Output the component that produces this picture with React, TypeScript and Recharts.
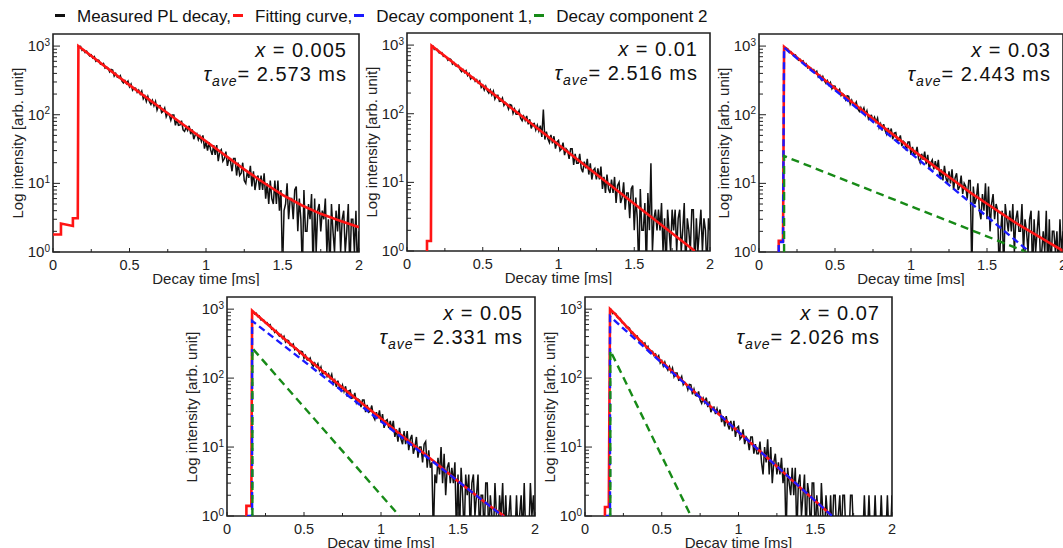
import React from "react";
import { LineChart, Line, XAxis, YAxis, ReferenceArea } from "recharts";

const FONT = '"Liberation Sans", Arial, sans-serif';
const INK = "#222";
const TEXT = "#111";

const seriesNames = ["Measured PL decay,", "Fitting curve,", "Decay component 1,", "Decay component 2"];
const seriesColors = ["#111111", "#ff1414", "#1a1aff", "#178a17"];

const panelXValues = ["0.005", "0.01", "0.03", "0.05", "0.07"];
const panelTauValues = ["2.573", "2.516", "2.443", "2.331", "2.026"];

// sample grid of the measured decays: 0.16 ms .. 2.00 ms, one bin every 0.01 ms
const sampleTimes = Array.from({ length: 185 }, (_, i) => Math.round((0.16 + i * 0.01) * 100) / 100);

const timeTicks = [0, 0.25, 0.5, 0.75, 1, 1.25, 1.5, 1.75, 2];
const intensityTicks = [
  1, 2, 3, 4, 5, 6, 7, 8, 9,
  10, 20, 30, 40, 50, 60, 70, 80, 90,
  100, 200, 300, 400, 500, 600, 700, 800, 900,
  1000,
];

// measured PL decay, one row = 0.1 ms. 0.5 = empty bin (drops below the axis)
const measuredX0005 = [
  1000, 976, 991, 866, 887, 804, 840, 765, 718, 744,
  672, 702, 604, 630, 620, 547, 541, 558, 478, 495,
  476, 421, 458, 448, 367, 400, 352, 347, 371, 311,
  290, 315, 284, 308, 255, 280, 228, 245, 244, 212,
  229, 200, 221, 171, 188, 156, 185, 155, 141, 162,
  135, 156, 117, 135, 136, 107, 112, 125, 93, 105,
  99, 83, 99, 99, 70, 86, 70, 71, 82, 60,
  57, 66, 59, 69, 52, 61, 44, 51, 53, 43,
  49, 41, 50, 32, 40, 30, 40, 31, 26, 36,
  26, 36, 21, 29, 31, 21, 23, 29, 18, 23,
  21, 15, 23, 23, 13, 20, 13, 14, 20, 11,
  10, 15, 12, 18, 9, 15, 8, 11, 13, 8,
  13, 8, 14, 6, 10, 5, 11, 6, 5, 11,
  5, 11, 4, 8, 0.5, 4, 5, 10, 3, 6,
  6, 3, 8, 9, 2, 6, 3, 0.5, 8, 2,
  2, 5, 3, 7, 0.5, 6, 1, 4, 5, 2,
  4, 3, 6, 1, 3, 0.5, 5, 2, 1, 4,
  2, 5, 1, 3, 4, 1, 2, 5, 0.5, 3,
  3, 1, 4, 0.5, 2,
];

const measuredX001 = [
  977, 979, 861, 883, 865, 775, 763, 775, 685, 693,
  665, 603, 632, 614, 529, 554, 500, 489, 506, 441,
  410, 438, 398, 425, 359, 386, 321, 339, 337, 297,
  314, 280, 300, 242, 260, 222, 252, 217, 199, 222,
  188, 213, 164, 185, 186, 151, 153, 169, 132, 145,
  137, 117, 136, 133, 101, 117, 98, 98, 111, 86,
  79, 92, 80, 93, 70, 83, 61, 71, 72, 58,
  68, 56, 67, 46, 115, 42, 55, 43, 38, 49,
  37, 47, 31, 39, 41, 29, 31, 38, 25, 31,
  29, 22, 31, 31, 18, 26, 19, 19, 26, 16,
  14, 20, 16, 22, 13, 19, 11, 15, 16, 11,
  16, 11, 17, 8, 12, 7, 13, 8, 7, 11,
  7, 12, 5, 9, 10, 5, 6, 10, 4, 7,
  7, 3, 8, 9, 2, 6, 3, 0.5, 8, 2,
  2, 5, 0.5, 7, 2, 19, 1, 3, 4, 2,
  4, 2, 5, 1, 3, 0.5, 4, 2, 1, 4,
  2, 4, 1, 3, 4, 1, 2, 5, 0.5, 3,
  2, 1, 4, 4, 0.5, 3, 1, 2, 4, 1,
  3, 2, 0.5, 3, 2,
];

const measuredX003 = [
  990, 916, 935, 906, 803, 827, 754, 732, 745, 661,
  622, 642, 592, 611, 534, 555, 480, 494, 484, 437,
  454, 408, 430, 354, 375, 324, 360, 313, 288, 314,
  272, 296, 239, 262, 260, 218, 219, 235, 190, 203,
  193, 165, 189, 185, 143, 163, 138, 137, 153, 121,
  112, 127, 112, 126, 99, 114, 87, 97, 98, 82,
  92, 78, 89, 65, 74, 59, 73, 59, 52, 64,
  51, 63, 44, 54, 55, 41, 43, 50, 35, 41,
  39, 30, 40, 40, 26, 34, 26, 27, 34, 23,
  20, 27, 22, 29, 19, 26, 16, 20, 22, 16,
  21, 16, 22, 12, 16, 11, 18, 12, 10, 15,
  10, 16, 8, 12, 14, 8, 9, 13, 7, 10,
  9, 6, 11, 11, 0.5, 9, 5, 6, 10, 4,
  3, 7, 4, 10, 3, 9, 2, 5, 7, 3,
  5, 4, 0.5, 2, 4, 0.5, 5, 3, 2, 4,
  2, 5, 1, 3, 4, 2, 2, 5, 1, 3,
  2, 1, 3, 4, 0.5, 3, 1, 2, 4, 1,
  1, 2, 1, 4, 0.5, 3, 0.5, 2, 2, 1,
  2, 0.5, 3, 1, 2,
];

const measuredX005 = [
  950, 917, 848, 869, 778, 794, 697, 706, 689, 625,
  637, 584, 598, 511, 520, 461, 488, 436, 406, 427,
  377, 405, 333, 356, 351, 298, 296, 312, 259, 270,
  258, 225, 246, 240, 193, 213, 184, 182, 196, 161,
  149, 165, 146, 162, 129, 145, 112, 124, 124, 105,
  115, 99, 113, 83, 94, 75, 92, 74, 66, 79,
  64, 76, 54, 65, 67, 51, 52, 61, 44, 50,
  48, 38, 48, 48, 32, 41, 32, 33, 40, 28,
  25, 32, 26, 34, 23, 30, 19, 24, 25, 19,
  24, 18, 24, 14, 18, 12, 19, 13, 11, 17,
  11, 17, 9, 13, 15, 8, 10, 14, 7, 10,
  10, 6, 11, 12, 5, 9, 5, 6, 0.5, 4,
  3, 7, 4, 10, 3, 8, 2, 5, 6, 3,
  5, 3, 6, 0.5, 4, 0.5, 5, 2, 0.5, 4,
  2, 4, 0.5, 3, 4, 1, 2, 4, 0.5, 2,
  2, 0.5, 3, 3, 0.5, 2, 1, 0.5, 3, 1,
  0.5, 2, 1, 3, 0.5, 2, 0.5, 1, 2, 0.5,
  1, 0.5, 2, 0.5, 1, 2, 0.5, 3, 0.5, 1,
  0.5, 3, 1, 2, 0.5,
];

const measuredX007 = [
  1000, 991, 864, 881, 863, 760, 733, 733, 638, 635,
  602, 540, 550, 529, 450, 465, 413, 399, 408, 351,
  324, 341, 306, 323, 271, 288, 237, 248, 244, 212,
  223, 196, 211, 165, 179, 149, 171, 144, 130, 147,
  123, 140, 105, 119, 119, 93, 95, 106, 80, 87,
  82, 68, 81, 80, 58, 69, 56, 55, 64, 48,
  43, 51, 44, 52, 38, 46, 32, 37, 38, 30,
  36, 29, 35, 23, 28, 20, 28, 21, 18, 24,
  17, 24, 14, 19, 20, 13, 14, 18, 11, 14,
  13, 9, 14, 14, 8, 11, 8, 8, 12, 6,
  4, 10, 6, 13, 4, 10, 3, 6, 8, 4,
  6, 4, 7, 3, 5, 0.5, 5, 3, 2, 5,
  2, 5, 0.5, 3, 4, 1, 2, 4, 0.5, 3,
  2, 0.5, 3, 3, 0.5, 2, 1, 0.5, 3, 1,
  0.5, 2, 1, 0.5, 2, 0.5, 2, 2, 0.5, 1,
  2, 0.5, 2, 2, 0.5, 1, 0.5, 2, 2, 0.5,
  0.5, 0.5, 1, 0.5, 0.5, 0.5, 2, 0.5, 0.5, 2,
  0.5, 0.5, 0.5, 2, 0.5, 0.5, 0.5, 2, 0.5, 0.5,
  0.5, 2, 0.5, 0.5, 2,
];

// fitted curves and components, [time ms, intensity]
const fitX0005: [number, number][] = [
  [0, 1.8], [0.052, 1.8], [0.052, 2.6], [0.13, 2.4], [0.13, 3.1], [0.162, 3.1],
  [0.166, 1000], [0.5, 270], [0.75, 105], [1.0, 41], [1.25, 16], [1.375, 10.3],
  [1.5, 6.8], [1.625, 4.8], [1.75, 3.6], [1.875, 2.85], [2.0, 2.3],
];
const fitX001: [number, number][] = [
  [0.132, 1], [0.132, 1.4], [0.158, 1.4], [0.162, 980], [1.9, 1],
];
const fitX003: [number, number][] = [
  [0.13, 1], [0.13, 1.45], [0.158, 1.45], [0.165, 975], [0.2, 841], [0.3, 553], [0.4, 366],
  [0.5, 242], [0.6, 160], [0.7, 107], [0.8, 71], [0.9, 48], [1.0, 32], [1.1, 21.8], [1.2, 14.9],
  [1.3, 10.3], [1.4, 7.1], [1.5, 5.05], [1.6, 3.6], [1.7, 2.57], [1.8, 1.9], [1.9, 1.4], [2.0, 1.04],
];
const comp1X003: [number, number][] = [[0.13, 1], [0.13, 1.4], [0.158, 1.4], [0.165, 950], [1.78, 1]];
const comp2X003: [number, number][] = [[0.165, 1], [0.165, 25], [1.76, 1]];
const fitX005: [number, number][] = [
  [0.126, 1], [0.126, 1.4], [0.158, 1.4], [0.163, 950], [0.2, 800], [0.25, 640], [0.3, 511],
  [0.4, 329], [0.5, 212], [0.6, 138], [0.7, 90], [0.8, 59], [0.9, 39], [1.0, 26], [1.1, 16.9],
  [1.2, 11.2], [1.3, 7.4], [1.4, 4.9], [1.5, 3.2], [1.6, 2.14], [1.7, 1.43], [1.8, 1.0],
];
const comp1X005: [number, number][] = [[0.13, 1], [0.163, 1], [0.163, 675], [1.79, 1]];
const comp2X005: [number, number][] = [[0.165, 1], [0.165, 270], [1.12, 1]];
const fitX007: [number, number][] = [
  [0.13, 1], [0.13, 1.35], [0.155, 1.35], [0.163, 1000], [0.2, 831], [0.25, 626], [0.3, 477],
  [0.4, 284], [0.5, 173], [0.6, 107.5], [0.7, 67], [0.8, 42], [0.9, 26.4], [1.0, 16.5],
  [1.2, 6.6], [1.4, 2.6], [1.6, 1.05],
];
const comp1X007: [number, number][] = [[0.135, 1], [0.163, 1], [0.163, 783], [1.61, 1]];
const comp2X007: [number, number][] = [[0.165, 1], [0.165, 250], [0.69, 1]];

const Y_AXIS_W = 50;
const TOP_M = 4;
const RIGHT_M = 4;
const X_AXIS_H = 34;

// plot-area boxes in page pixels
const layout = [
  { left: 53, top: 34, width: 306, height: 218 },
  { left: 407, top: 33, width: 303, height: 218 },
  { left: 759, top: 34, width: 304, height: 218 },
  { left: 227, top: 297, width: 308, height: 219 },
  { left: 585, top: 297, width: 307, height: 219 },
];

const panelSeries = [
  { measured: measuredX0005, fit: fitX0005, comp1: null, comp2: null },
  { measured: measuredX001, fit: fitX001, comp1: null, comp2: null },
  { measured: measuredX003, fit: fitX003, comp1: comp1X003, comp2: comp2X003 },
  { measured: measuredX005, fit: fitX005, comp1: comp1X005, comp2: comp2X005 },
  { measured: measuredX007, fit: fitX007, comp1: comp1X007, comp2: comp2X007 },
];

const toPoints = (pairs: [number, number][]) => pairs.map(([t, v]) => ({ t, v }));
const toMeasured = (vals: number[]) => vals.map((v, i) => ({ t: sampleTimes[i], v }));

function LogTick(props: any) {
  const { x, y, payload } = props;
  const lg = Math.log10(payload.value);
  const exp = Math.round(lg);
  const major = Math.abs(lg - exp) < 1e-6;
  return (
    <g>
      <line x1={x} x2={x + (major ? 7 : 4)} y1={y} y2={y} stroke={INK} strokeWidth={1} />
      {major && (
        <text x={x - 3} y={y + 5} textAnchor="end" fill={INK} fontSize={15} fontFamily={FONT}>
          <tspan>10</tspan>
          <tspan fontSize={10} dy={-5.5}>{exp}</tspan>
        </text>
      )}
    </g>
  );
}

function TimeTick(props: any) {
  const { x, y, payload } = props;
  const v = payload.value;
  const major = Math.abs(v * 2 - Math.round(v * 2)) < 1e-6;
  return (
    <g>
      <line x1={x} x2={x} y1={y} y2={y - (major ? 4 : 3)} stroke={INK} strokeWidth={1} />
      {major && (
        <text x={x} y={y + 17.5} textAnchor="middle" fill={INK} fontSize={14.5} fontFamily={FONT}>
          {String(v)}
        </text>
      )}
    </g>
  );
}

function DecayPanel({ index }: { index: number }) {
  const box = layout[index];
  const s = panelSeries[index];
  const chartW = Y_AXIS_W + box.width + RIGHT_M;
  const chartH = TOP_M + box.height + X_AXIS_H;
  return (
    <>
      <div style={{ position: "absolute", left: box.left - Y_AXIS_W, top: box.top - TOP_M }}>
        <LineChart width={chartW} height={chartH} margin={{ top: TOP_M, right: RIGHT_M, bottom: 0, left: 0 }}>
          <XAxis
            type="number"
            dataKey="t"
            domain={[0, 2]}
            allowDataOverflow
            ticks={timeTicks}
            interval={0}
            tickSize={0}
            tickMargin={0}
            tick={TimeTick}
            axisLine={false}
            height={X_AXIS_H}
            label={{ value: "Decay time [ms]", position: "insideBottom", offset: 2, fontSize: 15, fill: INK, fontFamily: FONT }}
          />
          <YAxis
            type="number"
            scale="log"
            domain={[1, 1500]}
            allowDataOverflow
            ticks={intensityTicks}
            interval={0}
            tickSize={0}
            tickMargin={0}
            tick={LogTick}
            axisLine={false}
            width={Y_AXIS_W}
          />
          <Line data={toMeasured(s.measured)} dataKey="v" type="linear" stroke={seriesColors[0]} strokeWidth={1.5} dot={false} isAnimationActive={false} />
          <Line data={toPoints(s.fit)} dataKey="v" type="linear" stroke={seriesColors[1]} strokeWidth={2.6} dot={false} isAnimationActive={false} />
          {s.comp1 && (
            <Line data={toPoints(s.comp1)} dataKey="v" type="linear" stroke={seriesColors[2]} strokeWidth={2.4} strokeDasharray="7 4" dot={false} isAnimationActive={false} />
          )}
          {s.comp2 && (
            <Line data={toPoints(s.comp2)} dataKey="v" type="linear" stroke={seriesColors[3]} strokeWidth={2.4} strokeDasharray="8 5" dot={false} isAnimationActive={false} />
          )}
          <ReferenceArea x1={0} x2={2} y1={1} y2={1500} fill="none" stroke={INK} strokeWidth={1.6} ifOverflow="visible" />
        </LineChart>
      </div>
      <div
        style={{
          position: "absolute",
          left: box.left - 35,
          top: box.top + box.height / 2,
          transform: "translate(-50%, -50%) rotate(-90deg)",
          whiteSpace: "nowrap",
          fontFamily: FONT,
          fontSize: 15,
          lineHeight: "18px",
          color: INK,
        }}
      >
        Log intensity [arb. unit]
      </div>
      <div
        style={{
          position: "absolute",
          left: box.left,
          width: box.width - 12,
          top: box.top + 4,
          textAlign: "right",
          fontFamily: FONT,
          fontSize: 20,
          letterSpacing: 1,
          lineHeight: "24px",
          color: TEXT,
          whiteSpace: "nowrap",
        }}
      >
        <div style={{ height: 24 }}>
          <i>x</i> = {panelXValues[index]}
        </div>
        <div style={{ height: 24 }}>
          <i>τ</i>
          <span style={{ fontSize: 14, fontStyle: "italic", position: "relative", top: 5 }}>ave</span>= {panelTauValues[index]} ms
        </div>
      </div>
    </>
  );
}

function LegendRow() {
  return (
    <div
      style={{
        position: "absolute",
        left: 55,
        top: 6,
        fontFamily: FONT,
        fontSize: 17,
        lineHeight: "22px",
        color: TEXT,
        whiteSpace: "nowrap",
      }}
    >
      {seriesNames.map((name, i) => (
        <span key={name}>
          <span
            style={{
              display: "inline-block",
              width: 10,
              height: 2.5,
              background: seriesColors[i],
              verticalAlign: "middle",
              position: "relative",
              top: -2,
              marginLeft: i === 0 ? 0 : 2,
              marginRight: 12,
            }}
          />
          {name}
        </span>
      ))}
    </div>
  );
}

export default function App() {
  return (
    <div
      style={{
        position: "absolute",
        left: 0,
        top: 0,
        width: 1063,
        height: 548,
        overflow: "hidden",
        background: "#fff",
      }}
    >
      <LegendRow />
      {layout.map((_, i) => (
        <DecayPanel key={i} index={i} />
      ))}
    </div>
  );
}
